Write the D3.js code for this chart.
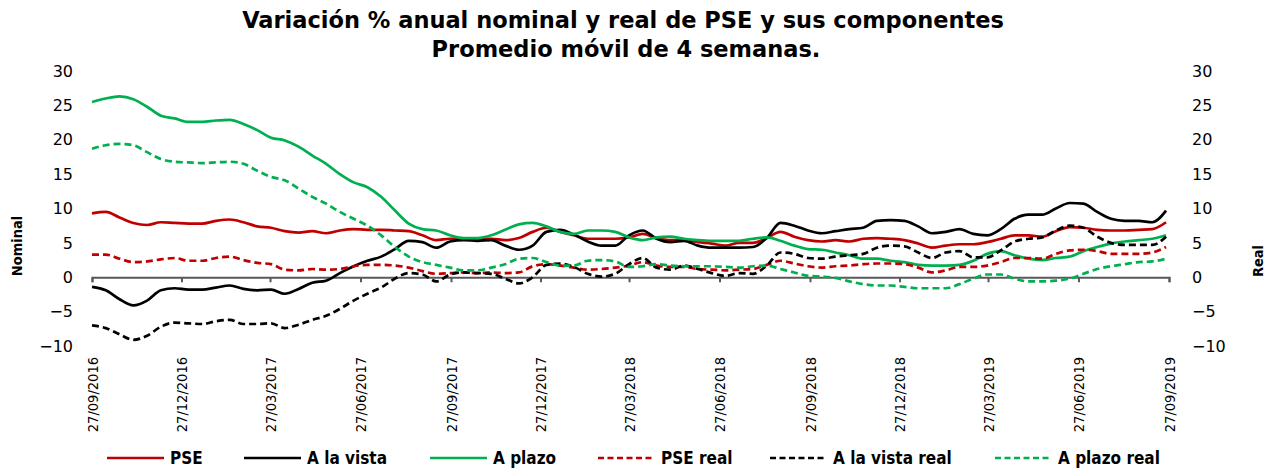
<!DOCTYPE html>
<html><head><meta charset="utf-8">
<script src="https://cdn.jsdelivr.net/npm/d3@7"></script>
<style>body{margin:0;background:#fff} svg{display:block}</style>
</head><body><svg id="c" width="1274" height="468"></svg>
<script>
// ---- data (biweekly observations starting 27/09/2016) ----
const startDate = "27/09/2016";
const stepDays = 14;
const tickLabels = ["27/09/2016","27/12/2016","27/03/2017","27/06/2017","27/09/2017","27/12/2017",
  "27/03/2018","27/06/2018","27/09/2018","27/12/2018","27/03/2019","27/06/2019","27/09/2019"];
const yTicks = [-10,-5,0,5,10,15,20,25,30];
const seriesNames = ["PSE","A la vista","A plazo","PSE real","A la vista real","A plazo real"];

const pse = [9.3,9.5,8.7,7.9,7.6,8.0,7.9,7.8,7.8,8.2,8.4,8.0,7.4,7.2,6.7,6.5,6.7,6.4,6.8,7.0,
  6.9,6.9,6.8,6.7,6.1,5.4,5.6,5.6,5.6,5.6,5.4,5.7,6.6,7.2,6.6,6.1,5.6,5.6,5.6,5.8,
  6.3,5.7,5.4,5.4,5.1,4.9,4.6,5.0,5.0,5.7,6.6,5.9,5.4,5.2,5.4,5.2,5.6,5.7,5.6,
  5.4,4.9,4.3,4.6,4.8,4.8,5.1,5.6,6.1,6.1,5.9,6.7,7.3,7.2,6.9,6.8,6.8,6.9,7.0,8.0];
const vista = [-1.4,-1.9,-3.2,-4.1,-3.4,-1.9,-1.6,-1.8,-1.8,-1.5,-1.2,-1.7,-1.9,-1.8,-2.4,-1.7,-0.8,-0.5,0.6,1.6,
  2.4,3.0,4.1,5.3,5.1,4.3,5.2,5.4,5.3,5.4,4.6,4.0,4.6,6.6,6.9,6.2,5.2,4.6,4.6,6.1,
  6.8,5.6,5.1,5.3,4.6,4.3,4.3,4.3,4.4,5.7,7.9,7.5,6.8,6.4,6.7,7.0,7.2,8.2,8.3,
  8.2,7.4,6.4,6.6,7.0,6.3,6.1,7.0,8.5,9.1,9.1,10.0,10.8,10.7,9.5,8.5,8.2,8.2,8.0,9.7];
const plazo = [25.5,26.0,26.3,25.9,24.8,23.5,23.1,22.6,22.6,22.8,22.9,22.3,21.4,20.3,19.9,19.0,17.7,16.5,15.0,13.8,
  13.1,11.7,9.7,7.8,7.0,6.8,6.1,5.7,5.7,6.1,6.9,7.7,7.9,7.4,6.6,6.3,6.8,6.8,6.6,5.8,
  5.4,5.8,5.9,5.6,5.4,5.3,5.3,5.3,5.6,5.8,5.3,4.6,4.1,4.0,3.6,3.2,2.7,2.7,2.4,
  2.2,1.8,1.7,1.7,1.8,2.4,3.4,3.8,3.2,2.7,2.5,2.8,3.0,3.8,4.4,4.9,5.2,5.4,5.6,6.1];
const pseReal = [3.3,3.3,2.7,2.2,2.3,2.6,2.8,2.4,2.4,2.8,3.0,2.5,2.1,1.9,1.1,1.0,1.2,1.1,1.2,1.6,
  1.8,1.8,1.7,1.4,0.9,0.5,0.6,0.7,0.6,0.7,0.6,0.7,1.6,1.9,1.7,1.4,1.1,1.2,1.4,1.7,
  2.2,1.7,1.5,1.5,1.2,1.1,1.0,1.1,1.2,1.8,2.4,2.0,1.6,1.4,1.6,1.7,1.9,2.0,2.0,
  1.9,1.4,0.7,1.0,1.5,1.5,1.7,2.2,2.8,2.8,2.7,3.4,3.9,4.0,3.8,3.4,3.4,3.4,3.6,4.4];
const vistaReal = [-7.0,-7.4,-8.3,-9.1,-8.5,-7.2,-6.6,-6.7,-6.8,-6.4,-6.2,-6.8,-6.8,-6.7,-7.4,-6.9,-6.2,-5.6,-4.6,-3.4,
  -2.4,-1.5,-0.2,0.6,0.4,-0.6,0.4,0.7,0.6,0.5,-0.2,-0.9,0.0,1.8,2.0,1.5,0.5,0.1,0.5,1.9,
  2.8,1.4,1.1,1.7,1.2,0.6,0.2,0.6,0.5,1.7,3.6,3.4,2.8,2.7,3.0,3.2,3.4,4.3,4.6,
  4.5,3.6,2.8,3.6,3.8,2.9,2.9,3.9,5.2,5.6,5.8,6.8,7.5,7.2,5.9,5.0,4.7,4.7,4.7,5.9];
const plazoReal = [18.7,19.2,19.4,19.2,18.2,17.2,16.8,16.7,16.6,16.7,16.8,16.5,15.5,14.6,14.1,12.9,11.7,10.7,9.5,8.5,
  7.5,6.1,4.4,3.0,2.2,1.8,1.4,1.0,1.0,1.4,1.9,2.7,2.8,2.2,1.7,1.7,2.4,2.5,2.3,1.5,
  1.6,1.9,1.7,1.6,1.6,1.6,1.5,1.4,1.6,1.7,1.2,0.7,0.2,0.1,-0.1,-0.6,-1.0,-1.2,-1.2,
  -1.4,-1.6,-1.6,-1.6,-1.0,-0.2,0.4,0.4,-0.2,-0.6,-0.6,-0.5,-0.2,0.5,1.2,1.6,1.9,2.2,2.3,2.7];

const seriesValues = [pse, vista, plazo, pseReal, vistaReal, plazoReal];
const seriesColors = ["#C00000","#000000","#00B050","#C00000","#000000","#00B050"];
const seriesDashed = [false,false,false,true,true,true];

// ---- chart ----
const parse = d3.timeParse("%d/%m/%Y");
const t0 = parse(startDate);
const dates = pse.map((_, i) => d3.timeDay.offset(t0, i * stepDays));
const tickDates = tickLabels.map(parse);

const svg = d3.select("#c");
const x = d3.scaleTime().domain([tickDates[0], tickDates[tickDates.length-1]]).range([92, 1169]);
const y = d3.scaleLinear().domain([-10, 30]).range([346, 71]);

// titles
svg.append("text").attr("x", 623).attr("y", 28).attr("text-anchor","middle")
  .attr("font-family","DejaVu Sans").attr("font-weight","bold").attr("font-size",22.5)
  .text("Variación % anual nominal y real de PSE y sus componentes");
svg.append("text").attr("x", 626).attr("y", 57).attr("text-anchor","middle")
  .attr("font-family","DejaVu Sans").attr("font-weight","bold").attr("font-size",22.5)
  .text("Promedio móvil de 4 semanas.");

// left & right value axes
const yl = svg.append("g").attr("transform","translate(73,0)")
  .call(d3.axisLeft(y).tickValues(yTicks).tickSize(0).tickPadding(0));
const yr = svg.append("g").attr("transform","translate(1192,0)")
  .call(d3.axisRight(y).tickValues(yTicks).tickSize(0).tickPadding(0));
[yl, yr].forEach(g => {
  g.select(".domain").remove();
  g.selectAll("text").attr("font-family","DejaVu Sans").attr("font-size",16).attr("fill","#000");
});

svg.append("text").attr("transform","translate(22,246) rotate(-90)").attr("text-anchor","middle")
  .attr("font-family","DejaVu Sans Condensed").attr("font-weight","bold").attr("font-size",14.5).text("Nominal");
svg.append("text").attr("transform","translate(1263,261) rotate(-90)").attr("text-anchor","middle")
  .attr("font-family","DejaVu Sans Condensed").attr("font-weight","bold").attr("font-size",14.5).text("Real");

// zero axis with ticks
const xa = svg.append("g").attr("transform",`translate(0,${y(0)})`)
  .call(d3.axisBottom(x).tickValues(tickDates).tickSize(5).tickFormat(""));
xa.select(".domain").attr("stroke","#595959").attr("stroke-width",2);
xa.selectAll(".tick line").attr("stroke","#595959").attr("stroke-width",2);

// category labels
const xl = svg.append("g").attr("transform","translate(0,357)")
  .call(d3.axisBottom(x).tickValues(tickDates).tickSize(0).tickFormat((d,i)=>tickLabels[i]));
xl.select(".domain").remove();
xl.selectAll("text").attr("font-family","DejaVu Sans Condensed").attr("font-size",14.5).attr("fill","#000")
  .attr("transform","rotate(-90)").attr("text-anchor","end").attr("x",0).attr("y",0).attr("dy","0.35em");

// lines
const line = d3.line().x((d,i)=>x(dates[i])).y(d=>y(d)).curve(d3.curveMonotoneX);
seriesValues.forEach((vals, k) => {
  svg.append("path").datum(vals).attr("d", line).attr("fill","none")
    .attr("stroke", seriesColors[k]).attr("stroke-width", 2.7)
    .attr("stroke-dasharray", seriesDashed[k] ? "7,4" : null);
});

// legend
const legX = [107, 244, 430, 598, 770, 995];
const lg = svg.append("g");
seriesNames.forEach((n, k) => {
  lg.append("line").attr("x1", legX[k]).attr("x2", legX[k]+57).attr("y1",458).attr("y2",458)
    .attr("stroke", seriesColors[k]).attr("stroke-width",2.7)
    .attr("stroke-dasharray", seriesDashed[k] ? "6,3.5" : null);
  lg.append("text").attr("x", legX[k]+63).attr("y", 464)
    .attr("font-family","DejaVu Sans Condensed").attr("font-weight","bold").attr("font-size",17).text(n);
});
</script></body></html>
